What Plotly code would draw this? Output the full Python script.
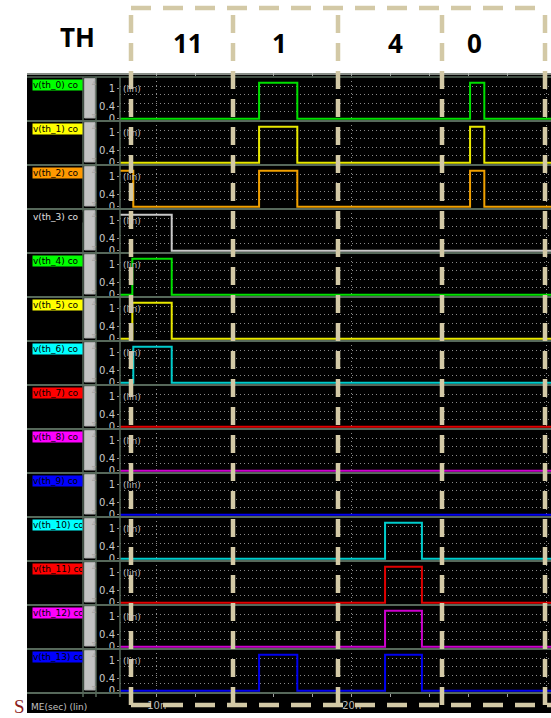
import plotly.graph_objects as go
from plotly.subplots import make_subplots

# ---------------- data (times in ns, values in V) ----------------
signal_names = ["v(th_0) co", "v(th_1) co", "v(th_2) co", "v(th_3) co", "v(th_4) co",
                "v(th_5) co", "v(th_6) co", "v(th_7) co", "v(th_8) co", "v(th_9) co",
                "v(th_10) co", "v(th_11) co", "v(th_12) co", "v(th_13) co"]

th0_t = [8.1, 15.25, 17.21, 26.07, 26.8, 30.3]
th0_v = [0, 1.2, 0, 1.2, 0, 0]
th1_t = [8.1, 15.25, 17.21, 26.07, 26.8, 30.3]
th1_v = [0, 1.2, 0, 1.2, 0, 0]
th2_t = [8.1, 8.8, 15.25, 17.21, 26.07, 26.8, 30.3]
th2_v = [1.2, 0, 1.2, 0, 1.2, 0, 0]
th3_t = [8.1, 10.77, 30.3]
th3_v = [1.2, 0, 0]
th4_t = [8.1, 8.75, 10.77, 30.3]
th4_v = [0, 1.2, 0, 0]
th5_t = [8.1, 8.75, 10.77, 30.3]
th5_v = [0, 1.2, 0, 0]
th6_t = [8.1, 8.8, 10.77, 30.3]
th6_v = [0, 1.2, 0, 0]
th7_t = [8.1, 30.3]
th7_v = [0, 0]
th8_t = [8.1, 30.3]
th8_v = [0, 0]
th9_t = [8.1, 30.3]
th9_v = [0, 0]
th10_t = [8.1, 21.71, 23.6, 30.3]
th10_v = [0, 1.2, 0, 0]
th11_t = [8.1, 21.71, 23.6, 30.3]
th11_v = [0, 1.2, 0, 0]
th12_t = [8.1, 21.71, 23.6, 30.3]
th12_v = [0, 1.2, 0, 0]
th13_t = [8.1, 15.25, 17.21, 21.71, 23.6, 30.3]
th13_v = [0, 1.2, 0, 1.2, 0, 0]

times = [th0_t, th1_t, th2_t, th3_t, th4_t, th5_t, th6_t, th7_t, th8_t, th9_t,
         th10_t, th11_t, th12_t, th13_t]
values = [th0_v, th1_v, th2_v, th3_v, th4_v, th5_v, th6_v, th7_v, th8_v, th9_v,
          th10_v, th11_v, th12_v, th13_v]

line_colors = ["#00e000", "#e8e800", "#f0a000", "#c8c8c8", "#00e000", "#e8e800", "#00cccc",
               "#e00000", "#cc00cc", "#0000ee", "#00cccc", "#e00000", "#cc00cc", "#0000ee"]
label_bg = ["#00ff00", "#ffff00", "#ff9900", "#000000", "#00ff00", "#ffff00", "#00ffff",
            "#ff0000", "#ff00ff", "#0000ff", "#00ffff", "#ff0000", "#ff00ff", "#0000ff"]
label_fg = ["#000000", "#000000", "#000000", "#e0e0e0", "#000000", "#000000", "#000000",
            "#000000", "#000000", "#000000", "#000000", "#000000", "#000000", "#000000"]

y_tickvals = [0, 0.4, 1.0]
y_ticktext = ["0", "0.4", "1"]
y_gridvals = [0.25, 0.52, 0.8, 1.07]
x_major = [10, 20, 30]
x_major_text = ["10n", "20n", "30n"]
x_minor = [12, 14, 16, 18, 22, 24, 26, 28]
x_top_ticks = [10, 12, 14, 16, 18, 20, 22, 24, 26, 28, 30]
code_values = ["11", "1", "4", "0"]

# ---------------- layout geometry ----------------
W, H = 551, 718
ML, MR, MT, MB = 120, 0, 77, 25
PW, PH = W - ML - MR, H - MT - MB
XR = [8.118, 30.22]
YR = [-0.073, 1.393]
N = len(signal_names)


def px2x(px):
    return (px - ML) / PW


def py2y(py):
    return (H - MB - py) / PH


fig = make_subplots(rows=N, cols=1, vertical_spacing=0, shared_xaxes=False)

for i in range(N):
    fig.add_trace(go.Scatter(x=times[i], y=values[i], mode="lines", line_shape="hv",
                             line=dict(color=line_colors[i], width=2),
                             showlegend=False, hoverinfo="skip"), row=i + 1, col=1)

grid_col = "#8a8a8a"
tick_font = dict(family="DejaVu Sans", size=10, color="#c8c8c8")

for i in range(N):
    k = "" if i == 0 else str(i + 1)
    bottom = (i == N - 1)
    xa = dict(range=XR, tickvals=x_major, showgrid=True, gridcolor=grid_col,
              griddash="1px,3px", gridwidth=1, zeroline=False, showline=False,
              showticklabels=bottom, ticks="outside" if bottom else "",
              fixedrange=True)
    if bottom:
        xa.update(ticktext=x_major_text, ticklen=3, tickcolor="#a0a0a0",
                  tickfont=dict(family="DejaVu Sans", size=10, color="#b8b8b8"),
                  minor=dict(tickvals=x_minor, ticks="outside", ticklen=3,
                             tickcolor="#a0a0a0", showgrid=False))
    fig.layout["xaxis" + k].update(xa)
    fig.layout["yaxis" + k].update(
        range=YR, tickvals=y_tickvals, ticktext=y_ticktext, ticks="outside", ticklen=2,
        tickcolor="#909090", tickfont=tick_font, showgrid=False, zeroline=False,
        showline=False, fixedrange=True,
        minor=dict(tickvals=y_gridvals, showgrid=True, gridcolor=grid_col,
                   griddash="1px,3px", gridwidth=1, ticks=""))

# top tick strip
fig.add_trace(go.Scatter(x=[], y=[], xaxis="x15", yaxis="y", showlegend=False))
fig.layout["xaxis15"] = dict(overlaying="x", anchor="y", side="top", range=XR,
                             tickvals=x_top_ticks, ticks="outside", ticklen=3,
                             tickcolor="#a0a0a0", showticklabels=False, showgrid=False,
                             zeroline=False, fixedrange=True)

shapes = []
annotations = []
sep_col = "#56685a"
xl = px2x(27)

# black background of the waveform window
shapes.append(dict(type="rect", xref="paper", yref="paper", x0=xl, x1=1,
                   y0=py2y(713), y1=py2y(73), fillcolor="#000000", line_width=0,
                   layer="below"))
shapes.append(dict(type="line", xref="paper", yref="paper", x0=xl, x1=1,
                   y0=py2y(74), y1=py2y(74), line=dict(color="#b4bcb4", width=1.5)))
# vertical separators
for vx in (83, 96, 120):
    shapes.append(dict(type="line", xref="paper", yref="paper", x0=px2x(vx), x1=px2x(vx),
                       y0=py2y(697), y1=py2y(77), line=dict(color=sep_col, width=1.5)))

for i in range(N):
    k = "" if i == 0 else str(i + 1)
    yd = "y" + k + " domain"
    # row separator
    shapes.append(dict(type="line", xref="paper", yref=yd, x0=xl, x1=1, y0=0, y1=0,
                       line=dict(color=sep_col, width=2)))
    if i == 0:
        shapes.append(dict(type="line", xref="paper", yref=yd, x0=xl, x1=1, y0=1, y1=1,
                           line=dict(color=sep_col, width=1.5)))
    # scrollbar
    shapes.append(dict(type="rect", xref="paper", yref=yd, x0=px2x(84.5), x1=px2x(95),
                       y0=3 / 44, y1=42.5 / 44, fillcolor="#c2c2c2",
                       line=dict(color="#a8a8a8", width=1)))
    annotations.append(dict(xref="paper", yref=yd, x=px2x(89.7), y=0.9, text="▵",
                            yanchor="middle", showarrow=False,
                            font=dict(size=8, color="#9a9a9a")))
    annotations.append(dict(xref="paper", yref=yd, x=px2x(89.7), y=0.14, text="▿",
                            yanchor="middle", showarrow=False,
                            font=dict(size=8, color="#9a9a9a")))
    # signal label box
    annotations.append(dict(xref="paper", yref=yd, x=px2x(32), y=1 - 2 / 44,
                            xanchor="left", yanchor="top", text=signal_names[i],
                            showarrow=False, width=49, height=10, align="left",
                            bgcolor=label_bg[i], borderpad=0,
                            font=dict(family="DejaVu Sans", size=9, color=label_fg[i])))
    # (lin) unit label
    annotations.append(dict(xref="paper", yref="y" + k, x=px2x(121), y=1.0,
                            xanchor="left", yanchor="middle", text="(lin)",
                            showarrow=False,
                            font=dict(family="DejaVu Sans", size=9, color="#bcbcbc")))

annotations.append(dict(xref="paper", yref="paper", x=px2x(29), y=py2y(707),
                        xanchor="left", yanchor="middle", text="ME(sec) (lin)",
                        showarrow=False,
                        font=dict(family="DejaVu Sans", size=9, color="#c0c0c0")))

# dashed overlay boxes
beige = "#d3c9a6"
for vx in (131, 233, 338, 442, 545):
    shapes.append(dict(type="line", xref="paper", yref="paper", x0=px2x(vx), x1=px2x(vx),
                       y0=py2y(705), y1=py2y(9),
                       line=dict(color=beige, width=4.5, dash="18px,10px"), layer="above"))
shapes.append(dict(type="line", xref="paper", yref="paper", x0=px2x(131), x1=px2x(545),
                   y0=py2y(8), y1=py2y(8),
                   line=dict(color=beige, width=4.5, dash="20px,12px"), layer="above"))
shapes.append(dict(type="line", xref="paper", yref="paper", x0=px2x(131), x1=1,
                   y0=py2y(705), y1=py2y(705),
                   line=dict(color=beige, width=4.5, dash="20px,12px"), layer="above"))

title_font = dict(family="Open Sans", size=26, color="#000000", weight="bold")
annotations.append(dict(xref="paper", yref="paper", x=px2x(58), y=py2y(37), text="TH",
                        yanchor="middle", showarrow=False, font=title_font))
for cx, txt in zip((171, 279, 395, 484), code_values):
    annotations.append(dict(xref="paper", yref="paper", x=px2x(cx), y=py2y(43), text=txt,
                            yanchor="middle", showarrow=False, font=title_font))
annotations.append(dict(xref="paper", yref="paper", x=px2x(12), y=py2y(706), text="S",
                        xanchor="left", yanchor="middle", showarrow=False,
                        font=dict(family="Liberation Serif", size=19, color="#8b1c1c")))

fig.update_layout(width=W, height=H, margin=dict(l=ML, r=MR, t=MT, b=MB),
                  paper_bgcolor="#ffffff", plot_bgcolor="#000000",
                  shapes=shapes, annotations=annotations, showlegend=False)

fig.write_html("out.html", config={"displayModeBar": False},
               post_script="document.body.style.margin='0';document.body.style.padding='0';")
